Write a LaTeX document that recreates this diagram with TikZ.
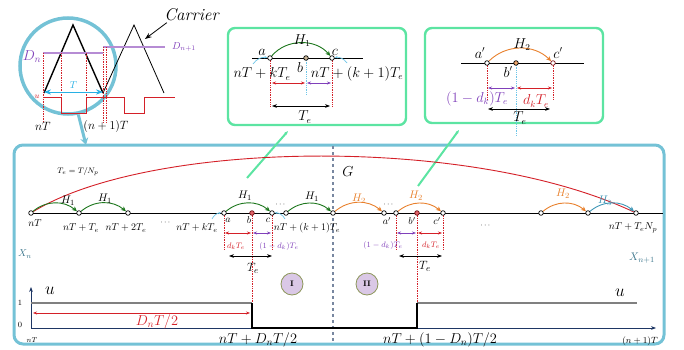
\documentclass[tikz,border=0pt]{standalone}
\usepackage{amsmath}
\usetikzlibrary{arrows.meta}

\definecolor{zblue}{RGB}{116,194,214}
\definecolor{zgreen}{RGB}{92,228,162}
\definecolor{hgreen}{RGB}{28,118,28}
\definecolor{horange}{RGB}{232,128,44}
\definecolor{hteal}{RGB}{62,150,182}
\definecolor{zred}{RGB}{212,32,40}
\definecolor{zpurple}{RGB}{128,64,186}
\definecolor{lpurple}{RGB}{182,140,212}
\definecolor{zcyan}{RGB}{40,176,228}
\definecolor{lcyan}{RGB}{110,198,232}
\definecolor{znavy}{RGB}{30,54,100}
\definecolor{xteal}{RGB}{60,118,140}
\definecolor{phfill}{RGB}{218,200,230}
\definecolor{phdraw}{RGB}{140,150,90}
\definecolor{gline}{RGB}{128,128,128}
\definecolor{dline}{RGB}{120,135,160}
\definecolor{btan}{RGB}{200,180,150}

\tikzset{
	tpt/.style={circle, draw, fill=white, inner sep=0pt, minimum size=4.6pt, line width=0.7pt},
	h1arc/.style={hgreen, line width=0.9pt, -{Stealth[length=5pt, width=4.5pt]}},
	h2arc/.style={horange, line width=0.9pt, -{Stealth[length=5pt, width=4.5pt]}},
	h3arc/.style={hteal, line width=0.9pt, -{Stealth[length=5pt, width=4.5pt]}},
	rdot/.style={zred, densely dotted, line width=0.7pt},
	cdot/.style={lcyan, densely dotted, line width=0.8pt},
	dimr/.style={zred, line width=0.9pt, {Stealth[length=4pt]}-{Stealth[length=4pt]}},
	dimp/.style={zpurple, line width=0.9pt, {Stealth[length=4pt]}-{Stealth[length=4pt]}},
	dimk/.style={black, line width=1pt, {Stealth[length=5pt]}-{Stealth[length=5pt]}},
	ptr/.style={lcyan, line width=0.7pt, -{Stealth[length=3pt]}},
	gbox/.style={zgreen, line width=2.4pt, rounded corners=7pt},
	glink/.style={zgreen, line width=2pt, -{Stealth[length=4pt]}},
	phase/.style={circle, draw=phdraw, fill=phfill, line width=0.8pt, minimum size=22pt, inner sep=0pt, font=\bfseries\footnotesize},
	blab/.style={font=\fontsize{13.5}{15}\selectfont},
	slab/.style={font=\fontsize{8}{10}\selectfont},
	hlab/.style={font=\fontsize{11}{13}\selectfont},
}

\begin{document}
\begin{tikzpicture}[x=1pt, y=-1pt, >=Stealth, font=\fontsize{10}{12}\selectfont]
	\useasboundingbox (0,0) rectangle (684,350);
	% carrier and zoom ring
	\node[circle, draw=zblue, line width=3.5pt, minimum size=96pt, inner sep=0pt] (zc) at (68,66) {};
	\draw[line width=1.4pt] (44,93) -- (73,25) -- (103,93);
	\draw[line width=0.8pt] (103,93) -- (134,25) -- (164,93);
	\draw[lpurple, line width=1.2pt] (43,53) -- (103,53);
	\draw[lpurple, line width=1.2pt] (103,47) -- (165,47);
	\draw[rdot] (43,53) -- (43,122);
	\draw[rdot] (61,53) -- (61,113);
	\draw[rdot] (86,53) -- (86,113);
	\draw[rdot] (103,47) -- (103,122);
	\draw[rdot] (106,47) -- (106,122);
	\draw[zred, line width=0.8pt] (43,97) -- (61,97) -- (61,113) -- (86,113) -- (86,97) -- (124,97) -- (124,113) -- (144,113) -- (144,97) -- (175,97);
	\node[text=zpurple, font=\fontsize{14}{16}\selectfont] (dn) at (32,57) {$D_n$};
	\node[text=zpurple] (dn1) at (184,47) {$D_{n+1}$};
	\node[text=zred, slab] (uc) at (37,97) {$u$};
	\coordinate (tl) at (44,92);
	\coordinate (tr) at (103,92);
	\draw[<->, zcyan, line width=0.9pt] (tl) -- (tr) node[above, midway, text=zcyan] {$T$};
	\node[font=\fontsize{12}{14}\selectfont] (ln) at (43,126) {$nT$};
	\node[font=\fontsize{12}{14}\selectfont] (ln1) at (106,126) {$(n+1)T$};
	\node[font=\fontsize{17}{19}\selectfont] (car) at (192,15) {\textit{Carrier}};
	\coordinate (cp) at (145,39);
	\draw[->, line width=0.8pt] ([xshift=6pt, yshift=2pt]car.south west) -- (cp);
	\coordinate (mtop) at (86,145);
	\draw[zblue, line width=3pt, -{Stealth[length=7pt, width=8pt]}] (zc.-78) -- (mtop);

	% zoom box H1
	\draw[gbox] (228,28) rectangle (406,125);
	\coordinate (l1) at (252,58);
	\coordinate (r1) at (363,58);
	\draw[line width=0.8pt] (l1) -- (r1);
	\coordinate (ta1) at (270,107);
	\coordinate (tb1) at (306,95);
	\coordinate (tc1) at (332,107);
	\draw[rdot] (270,58) -- (ta1);
	\draw[cdot] (306,58) -- (tb1);
	\draw[rdot] (332,58) -- (tc1);
	\node[tpt] (ta) at (270,58) {};
	\node[tpt, fill=btan] (tb) at (306,58) {};
	\node[tpt] (tc) at (332,58) {};
	\draw[h1arc] (ta) to[bend left=50] (tc);
	\node[blab] (th) at (302,41) {$H_1$};
	\node[blab] (tla) at (262,52) {$a$};
	\node[blab] (tlb) at (300,68) {$b$};
	\node[blab] (tlc) at (335,52) {$c$};
	\node[blab] (tk) at (262,74) {$nT+kT_e$};
	\node[blab] (tk1) at (357,74) {$nT+(k+1)T_e$};
	\coordinate (pa1) at (253,64);
	\coordinate (pc1) at (347,63);
	\draw[ptr] (pa1) to[bend left=30] (ta);
	\draw[ptr] (pc1) to[bend right=30] (tc);
	\draw[dimr] (272,83) -- (305,83);
	\draw[dimp] (307,83) -- (331,83);
	\draw[dimk] (272,106) -- (330,106);
	\node[blab] (tte) at (305,117) {$T_e$};

	% zoom box H2
	\draw[gbox] (425,28) rectangle (603,123);
	\coordinate (l2) at (461,63);
	\coordinate (r2) at (584,63);
	\draw[line width=0.8pt] (l2) -- (r2);
	\draw[rdot] (487,63) -- (487,100);
	\draw[cdot] (516,63) -- (516,136);
	\draw[rdot] (553,63) -- (553,100);
	\node[tpt] (sa) at (487,63) {};
	\node[tpt, fill=horange!70] (sb) at (516,63) {};
	\node[tpt, draw=zred!60!black] (sc) at (553,63) {};
	\draw[h2arc] (sa) to[bend left=45] (sc);
	\node[blab] (sh) at (522,45) {$H_2$};
	\node[blab] (sla) at (480,53) {$a'$};
	\node[blab] (slb) at (508,72) {$b'$};
	\node[blab] (slc) at (558,53) {$c'$};
	\draw[dimp] (488,88) -- (515,88);
	\draw[dimr] (517,88) -- (552,88);
	\node[blab, text=zpurple] (sd1) at (477,99) {$(1-d_k)T_e$};
	\node[blab, text=zred] (sd2) at (536,101) {$d_kT_e$};
	\draw[dimk] (488,109) -- (550,109);
	\node[blab] (ste) at (520,118) {$T_e$};

	% main frame
	\draw[zblue, line width=3pt, rounded corners=9pt] (14,145) rectangle (664,344);
	\draw[dline, dashed, line width=1.1pt] (333,146) -- (333,343);
	\coordinate (g1s) at (247,178);
	\coordinate (g1e) at (288,131);
	\coordinate (g2s) at (418,186);
	\coordinate (g2e) at (459,130);
	\draw[glink] (g1s) -- (g1e);
	\draw[glink] (g2s) -- (g2e);
	\node[font=\fontsize{15}{17}\selectfont] (gg) at (348,172) {$G$};
	\node[slab] (tn) at (78,172) {$T_e=T/N_p$};
	\node[text=xteal] (xn) at (25,254) {$X_n$};
	\node[text=xteal, font=\fontsize{11}{13}\selectfont] (xn1) at (642,258) {$X_{n+1}$};

	% time axis of the period
	\coordinate (ml) at (30,213);
	\coordinate (mr) at (663,213);
	\draw[line width=0.9pt] (ml) -- (mr);
	\draw[rdot] (224,213) -- (224,250);
	\draw[rdot] (252,213) -- (252,303);
	\draw[rdot] (272,213) -- (272,250);
	\draw[rdot] (396,213) -- (396,250);
	\draw[rdot] (417,213) -- (417,303);
	\draw[rdot] (443,213) -- (443,250);
	\node[tpt] (p0) at (31,213) {};
	\node[tpt] (p1) at (79,213) {};
	\node[tpt] (p2) at (128,213) {};
	\node[tpt] (pa) at (224,213) {};
	\node[tpt, fill=zred!70, draw=zred!50!black] (pb) at (252,213) {};
	\node[tpt] (pc) at (272,213) {};
	\node[tpt] (pd) at (286,213) {};
	\node[tpt] (pk) at (333,213) {};
	\node[tpt] (pe) at (384,213) {};
	\node[tpt] (pa2) at (396,213) {};
	\node[tpt, fill=zred!70, draw=zred!50!black] (pb2) at (417,213) {};
	\node[tpt] (pc2) at (443,213) {};
	\node[tpt] (pf) at (541,213) {};
	\node[tpt] (pg) at (588,213) {};
	\node[tpt] (ph) at (636,213) {};
	\draw[zred, line width=0.9pt] (p0) .. controls (150,140) and (470,135) .. (ph);
	\draw[h1arc] (p0) to[bend left=40] (p1);
	\draw[h1arc] (p1) to[bend left=40] (p2);
	\draw[h1arc] (pa) to[bend left=40] (pc);
	\draw[h1arc] (pd) to[bend left=40] (pk);
	\draw[h2arc] (pk) to[bend left=40] (pe);
	\draw[h2arc] (pa2) to[bend left=40] (pc2);
	\draw[h2arc] (pf) to[bend left=40] (pg);
	\draw[h3arc] (pg) to[bend left=40] (ph);
	\node[hlab] (h1a) at (68,201) {$H_1$};
	\node[hlab] (h1b) at (105,199) {$H_1$};
	\node[hlab] (h1c) at (245,196) {$H_1$};
	\node[hlab] (h1d) at (312,197) {$H_1$};
	\node[hlab, text=horange] (h2a) at (359,199) {$H_2$};
	\node[hlab, text=horange] (h2b) at (416,196) {$H_2$};
	\node[hlab, text=horange] (h2c) at (563,194) {$H_2$};
	\node[hlab, text=hteal] (h3) at (605,201) {$H_3$};
	\node[slab] (d1) at (281,205) {$\cdots$};
	\node[slab] (d2) at (389,205) {$\cdots$};
	\node (q0) at (35,223) {$nT$};
	\node (q1) at (81,228) {$nT+T_e$};
	\node (q2) at (126,228) {$nT+2T_e$};
	\node[slab] (qd) at (166,223) {$\cdots$};
	\node (qk) at (197,228) {$nT+kT_e$};
	\node (qa) at (228,220) {$a$};
	\node (qb) at (249,220) {$b$};
	\node (qc) at (268,220) {$c$};
	\node (qk1) at (307,228) {$nT+(k+1)T_e$};
	\node (qa2) at (387,221) {$a'$};
	\node (qb2) at (412,221) {$b'$};
	\node (qc2) at (437,221) {$c'$};
	\node[slab] (qd2) at (486,226) {$\cdots$};
	\node (qn) at (633,228) {$nT+T_eN_p$};
	\coordinate (pp1) at (212,219);
	\coordinate (pp2) at (285,219);
	\draw[ptr] (pp1) to[bend left=30] (pa);
	\draw[ptr] (pp2) to[bend right=30] (pc);

	% duty intervals
	\draw[dimr] (225,233) -- (251,233);
	\draw[dimp] (253,233) -- (271,233);
	\draw[dimp] (397,233) -- (416,233);
	\draw[dimr] (418,233) -- (442,233);
	\node[slab, text=zred] (e1) at (236,246) {$d_kT_e$};
	\node[slab, text=zpurple] (e2) at (279,246) {$(1-d_k)T_e$};
	\node[slab, text=zpurple] (e3) at (383,245) {$(1-d_k)T_e$};
	\node[slab, text=zred] (e4) at (431,245) {$d_kT_e$};
	\draw[dimk] (229,256) -- (272,256);
	\draw[dimk] (399,256) -- (442,256);
	\node[font=\fontsize{13}{15}\selectfont] (f1) at (253,268) {$T_e$};
	\node[font=\fontsize{13}{15}\selectfont] (f2) at (425,266) {$T_e$};
	\node[phase] (s1) at (292,284) {I};
	\node[phase] (s2) at (367,284) {II};

	% switching signal u
	\coordinate (o) at (31,328);
	\coordinate (oy) at (31,287);
	\coordinate (ox) at (656,328);
	\draw[znavy, line width=1pt, -{Stealth[length=5pt]}] (o) -- (oy);
	\draw[znavy, line width=1pt, -{Stealth[length=5pt]}] (o) -- (ox);
	\draw[gline, line width=1.3pt] (31,303) -- (252,303);
	\draw[gline, line width=1.3pt] (417,303) -- (637,303);
	\draw[line width=1.1pt] (252,303) -- (252,328) -- (417,328) -- (417,303);
	\draw[dimr] (33,313) -- (250,313);
	\node[text=zred, font=\fontsize{14}{16}\selectfont] (dh) at (157,322) {$D_nT/2$};
	\node[slab] (y1) at (20,303) {1};
	\node[slab] (y0) at (20,325) {0};
	\node[font=\fontsize{7}{8}\selectfont] (x0) at (32,340) {$nT$};
	\node[font=\fontsize{18}{20}\selectfont] (ua) at (50,291) {$u$};
	\node[font=\fontsize{18}{20}\selectfont] (ub) at (620,293) {$u$};
	\node[font=\fontsize{14}{16}\selectfont] (xa) at (258,340) {$nT+D_nT/2$};
	\node[font=\fontsize{14}{16}\selectfont] (xb) at (440,340) {$nT+(1-D_n)T/2$};
	\node[font=\fontsize{9}{10}\selectfont] (xe) at (640,341) {$(n+1)T$};
\end{tikzpicture}
\end{document}
